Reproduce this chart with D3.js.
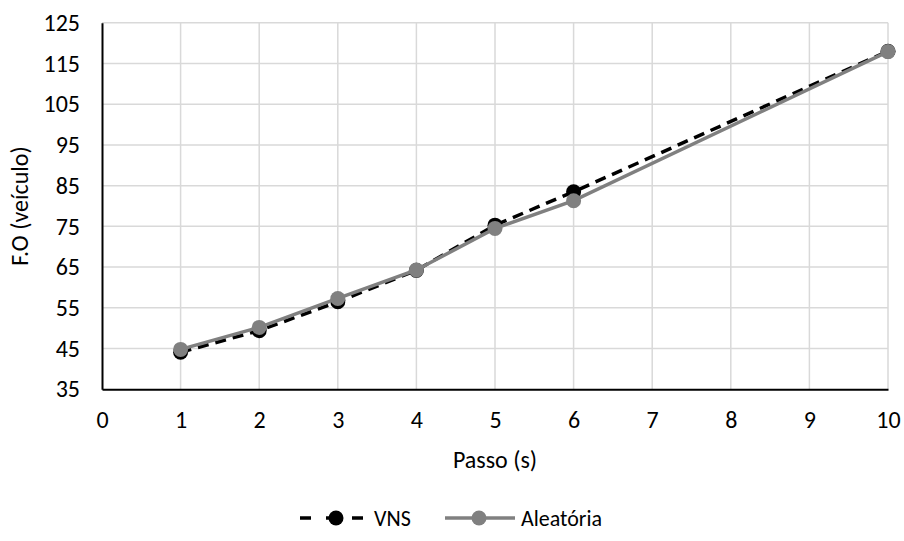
<!DOCTYPE html>
<html>
<head>
<meta charset="utf-8">
<script src="https://cdn.jsdelivr.net/npm/d3@7"></script>
<style>
  body { margin: 0; background: #fff; }
  svg { display: block; font-family: Carlito, Lato, "Liberation Sans", sans-serif; }
</style>
</head>
<body>
<svg id="chart" width="904" height="541"></svg>
<script>
const steps = [1, 2, 3, 4, 5, 6, 10];
const vnsValues = [44.1, 49.4, 56.5, 64.2, 75.3, 83.5, 118];
const aleatoriaValues = [44.8, 50.2, 57.3, 64.3, 74.5, 81.3, 117.9];
const xTicks = [0, 1, 2, 3, 4, 5, 6, 7, 8, 9, 10];
const yTicks = [35, 45, 55, 65, 75, 85, 95, 105, 115, 125];
const seriesNames = ["VNS", "Aleatória"];
const xTitle = "Passo (s)";
const yTitle = "F.O (veículo)";

const svg = d3.select("#chart");
const pL = 102, pR = 888, pT = 22.7, pB = 389.3;
const FS = 24, LFS = 22;

const x = d3.scaleLinear().domain([0, 10]).range([pL, pR]);
const y = d3.scaleLinear().domain([35, 125]).range([pB, pT]);

// gridlines
svg.append("g").selectAll("line").data(yTicks.filter(d => d > 35)).join("line")
  .attr("x1", pL).attr("x2", pR)
  .attr("y1", d => y(d)).attr("y2", d => y(d))
  .attr("stroke", "#d9d9d9").attr("stroke-width", 1.5);
svg.append("g").selectAll("line").data(xTicks.filter(d => d > 0)).join("line")
  .attr("x1", d => x(d)).attr("x2", d => x(d))
  .attr("y1", pT).attr("y2", pB)
  .attr("stroke", "#d9d9d9").attr("stroke-width", 1.5);

// axes
const xAxis = svg.append("g").attr("transform", `translate(0,${pB})`)
  .call(d3.axisBottom(x).tickValues(xTicks).tickSize(0).tickPadding(22));
xAxis.attr("font-family", null).attr("font-size", FS);
xAxis.select(".domain").attr("stroke", "#000").attr("stroke-width", 2);
xAxis.selectAll("text").attr("fill", "#000");

const yAxis = svg.append("g").attr("transform", `translate(${pL},0)`)
  .call(d3.axisLeft(y).tickValues(yTicks).tickSize(0).tickPadding(22));
yAxis.attr("font-family", null).attr("font-size", FS);
yAxis.select(".domain").attr("stroke", "#000").attr("stroke-width", 2);
yAxis.selectAll("text").attr("fill", "#000");

// titles
svg.append("text").attr("x", (pL + pR) / 2).attr("y", 468)
  .attr("text-anchor", "middle").attr("font-size", FS).text(xTitle);
svg.append("text").attr("transform", `translate(28,${(pT + pB) / 2}) rotate(-90)`)
  .attr("text-anchor", "middle").attr("font-size", FS).text(yTitle);

const line = d3.line().x((d, i) => x(steps[i])).y(d => y(d));

// VNS
svg.append("path").datum(vnsValues).attr("d", line)
  .attr("fill", "none").attr("stroke", "#000").attr("stroke-width", 3.5)
  .attr("stroke-dasharray", "11,7");
svg.append("g").selectAll("circle").data(vnsValues).join("circle")
  .attr("cx", (d, i) => x(steps[i])).attr("cy", d => y(d)).attr("r", 7.5)
  .attr("fill", "#000");

// Aleatória
svg.append("path").datum(aleatoriaValues).attr("d", line)
  .attr("fill", "none").attr("stroke", "#808080").attr("stroke-width", 3.5);
svg.append("g").selectAll("circle").data(aleatoriaValues).join("circle")
  .attr("cx", (d, i) => x(steps[i])).attr("cy", d => y(d)).attr("r", 7.5)
  .attr("fill", "#808080");

// legend
const ly = 518;
const lg = svg.append("g");
lg.append("line").attr("x1", 300).attr("x2", 370).attr("y1", ly).attr("y2", ly)
  .attr("stroke", "#000").attr("stroke-width", 3.5).attr("stroke-dasharray", "11,15");
lg.append("circle").attr("cx", 336).attr("cy", ly).attr("r", 7.5).attr("fill", "#000");
lg.append("text").attr("x", 374).attr("y", ly + 7.5).attr("font-size", LFS).text(seriesNames[0]);
lg.append("line").attr("x1", 445).attr("x2", 515).attr("y1", ly).attr("y2", ly)
  .attr("stroke", "#808080").attr("stroke-width", 3.5);
lg.append("circle").attr("cx", 479).attr("cy", ly).attr("r", 7.5).attr("fill", "#808080");
lg.append("text").attr("x", 521).attr("y", ly + 7.5).attr("font-size", LFS).text(seriesNames[1]);
</script>
</body>
</html>
